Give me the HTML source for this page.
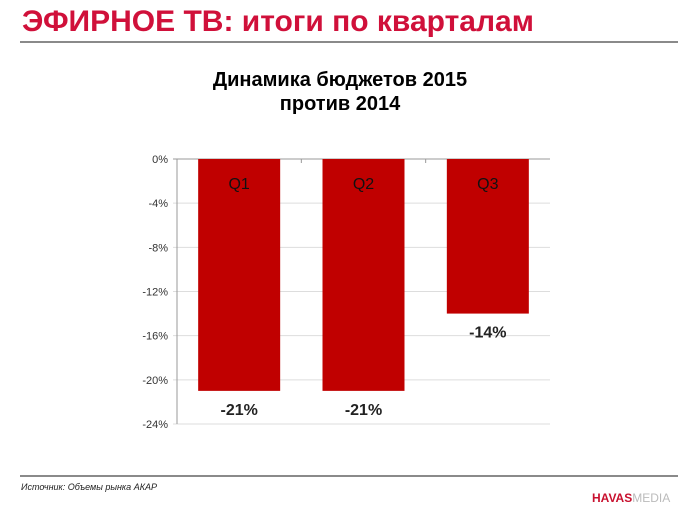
<!DOCTYPE html>
<html><head><meta charset="utf-8"><style>
body{margin:0;width:700px;height:525px;background:#fff;overflow:hidden;font-family:"Liberation Sans",sans-serif;position:relative}
.t{position:absolute}
</style></head><body>
<div class="t" style="left:22px;top:5px;font-size:30px;font-weight:bold;color:#d0103a;letter-spacing:0px">ЭФИРНОЕ ТВ: итоги по кварталам</div>
<div class="t" style="left:20px;top:41px;width:658px;height:2px;background:#8a8a8a"></div>
<div class="t" style="left:0;width:680px;top:68px;text-align:center;font-size:20px;font-weight:bold;line-height:24px;color:#000">Динамика бюджетов 2015<br>против 2014</div>
<svg class="t" style="left:0;top:0" width="700" height="525">
<g id="grid"></g><g id="bars"></g>
</svg>
<div class="t" style="left:20px;top:475px;width:658px;height:2px;background:#8a8a8a"></div>
<div class="t" style="left:21px;top:482px;font-size:9px;font-style:italic;color:#222">Источник: Объемы рынка АКАР</div>
<div class="t" style="left:592px;top:491px;font-size:12px;color:#c8102e"><b>HAVAS</b><span style="color:#bbb">MEDIA</span></div>
<script>
const categories=["Q1","Q2","Q3"];
const values=[-21,-21,-14];
const ticks=[0,-4,-8,-12,-16,-20,-24];
const tickLabels=["0%","-4%","-8%","-12%","-16%","-20%","-24%"];
const X0=177,X1=550,Y0=159,PX=265/24;
const y=v=>Y0-v*PX;
const band=(X1-X0)/categories.length;
const ns="http://www.w3.org/2000/svg";
const grid=document.getElementById('grid'),bars=document.getElementById('bars');
function mk(tag,a,p){const e=document.createElementNS(ns,tag);for(const k in a)e.setAttribute(k,a[k]);p.appendChild(e);return e;}
ticks.forEach((t,i)=>{
 const l=mk('line',{x1:X0-4,x2:X1,y1:y(t),y2:y(t),stroke:t===0?'#999':'#ddd','stroke-width':1},grid);
 
 
 const tx=mk('text',{x:X0-9,y:y(t)+4,'text-anchor':'end','font-size':11,fill:'#333','font-family':'Liberation Sans, sans-serif'},grid);
 tx.textContent=tickLabels[i];
 
 
});
const ax=mk('line',{x1:X0,x2:X0,y1:Y0,y2:y(-24),stroke:'#999'},grid);


for(let i=1;i<categories.length;i++){const tk=mk('line',{x1:X0+band*i,x2:X0+band*i,y1:Y0,y2:Y0+4,stroke:'#999'},grid);
 
 }
categories.forEach((c,i)=>{
 const cx=X0+band*(i+0.5),w=82;
 const r=mk('rect',{x:cx-w/2,y:Y0,width:w,height:y(values[i])-Y0,fill:'#c00000'},bars);
 
 
 const cl=mk('text',{x:cx,y:Y0+30,'text-anchor':'middle','font-size':16,fill:'#111','font-family':'Liberation Sans, sans-serif'},bars);
 cl.textContent=c;
 
 
 const vl=mk('text',{x:cx,y:y(values[i])+24,'text-anchor':'middle','font-size':16,'font-weight':'bold',fill:'#222','font-family':'Liberation Sans, sans-serif'},bars);
 vl.textContent=values[i]+'%';
 
 
});
</script>
</body></html>
